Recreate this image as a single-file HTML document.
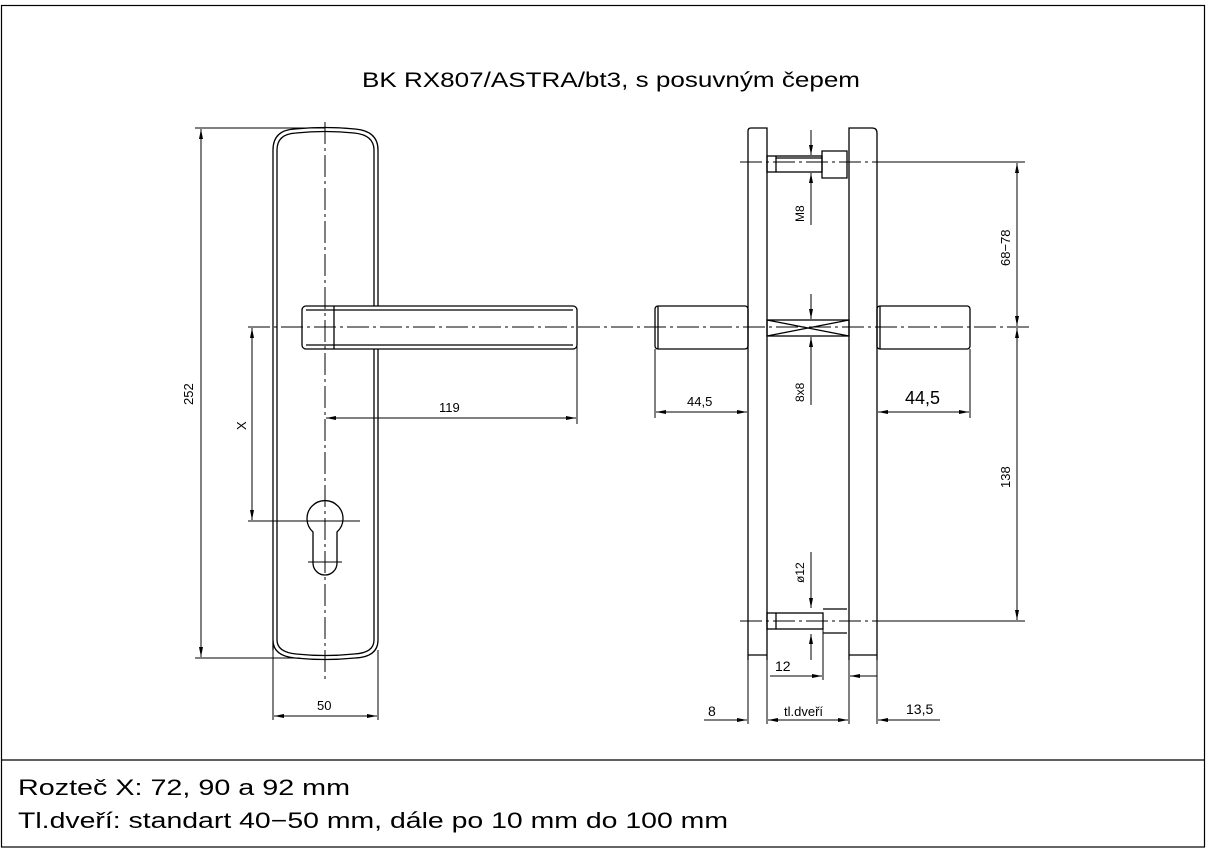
<!DOCTYPE html>
<html><head><meta charset="utf-8"><style>
html,body{margin:0;padding:0;background:#fff;}
svg{display:block;}
text{font-family:"Liberation Sans",sans-serif;fill:#000;}
</style></head><body>
<svg width="1209" height="854" viewBox="0 0 1209 854" xmlns="http://www.w3.org/2000/svg">
<defs>
<marker id="a" viewBox="0 0 10 4" refX="10" refY="2" markerWidth="10" markerHeight="4" orient="auto-start-reverse" markerUnits="userSpaceOnUse"><path d="M0,0 L10,2 L0,4z" fill="#000"/></marker>
</defs>
<g fill="none" stroke="#000" stroke-width="1.2">
<rect x="1.5" y="5.5" width="1203" height="841.5"/>
<line x1="1" y1="760" x2="1205" y2="760"/>
</g>
<text x="362" y="87" font-size="21" textLength="498" lengthAdjust="spacingAndGlyphs">BK RX807/ASTRA/bt3, s posuvným čepem</text>
<text x="18" y="795" font-size="22" textLength="332" lengthAdjust="spacingAndGlyphs">Rozteč X: 72, 90 a 92 mm</text>
<text x="18" y="828" font-size="22" textLength="710" lengthAdjust="spacingAndGlyphs">Tl.dveří: standart 40−50 mm, dále po 10 mm do 100 mm</text>

<!-- Left view -->
<g fill="none" stroke="#000" stroke-width="1.3">
<path d="M273,650 L273,150 Q273,130 295,129 Q325,126 355,129 Q378,131 378,150 L378,640 Q378,657 355,658 Q325,661 295,658 Q273,656 273,640Z"/>
<path d="M277,640 L277,150 Q277,134 296,133 Q325,130 354,133 Q374,135 374,150 L374,640 Q374,653 354,654 Q325,657 296,654 Q277,652 277,640Z"/>
<rect x="302" y="306" width="275" height="43" rx="4" fill="#fff"/>
<line x1="306" y1="310" x2="573" y2="310"/>
<line x1="306" y1="345" x2="573" y2="345"/>
<line x1="334" y1="306" x2="334" y2="349"/>
<path d="M313,532 A18,18 0 1 1 337,532 L337,563 A11,11 0 0 1 313,563 Z"/>
</g>
<g stroke="#000" stroke-width="1" fill="none" stroke-dasharray="22,4,3,4">
<line x1="325" y1="122" x2="325" y2="682"/>
<line x1="248" y1="327" x2="1030" y2="327"/>
<line x1="740" y1="162" x2="880" y2="162"/>
<line x1="740" y1="621" x2="880" y2="621"/>
</g>
<g stroke="#000" stroke-width="1" fill="none">
<line x1="248" y1="521" x2="360" y2="521"/>
<line x1="308" y1="562" x2="342" y2="562"/>
<line x1="195" y1="128" x2="325" y2="128"/>
<line x1="195" y1="658" x2="300" y2="658"/>
<line x1="201" y1="129" x2="201" y2="657" marker-start="url(#a)" marker-end="url(#a)"/>
<line x1="252" y1="328" x2="252" y2="520" marker-start="url(#a)" marker-end="url(#a)"/>
<line x1="577" y1="340" x2="577" y2="424"/>
<line x1="326" y1="418" x2="576" y2="418" marker-start="url(#a)" marker-end="url(#a)"/>
<line x1="273" y1="650" x2="273" y2="720"/>
<line x1="378" y1="650" x2="378" y2="720"/>
<line x1="274" y1="716" x2="377" y2="716" marker-start="url(#a)" marker-end="url(#a)"/>
</g>
<text font-size="13" transform="translate(193,405) rotate(-90)">252</text>
<text font-size="13" transform="translate(246,430) rotate(-90)">X</text>
<text x="439" y="412" font-size="13">119</text>
<text x="317" y="710" font-size="13">50</text>

<!-- Right view -->
<g fill="none" stroke="#000" stroke-width="1.3">
<path d="M748,660 L748,131 Q748,128 751,128 L767,128 L767,660"/>
<path d="M849,660 L849,128 L872,128 Q877,128 877,133 L877,660"/>
<line x1="767" y1="655" x2="748" y2="655"/>
<line x1="849" y1="655" x2="877" y2="655"/>
<rect x="767" y="156" width="55" height="16"/>
<line x1="776" y1="156" x2="776" y2="172"/>
<line x1="776" y1="158" x2="822" y2="158"/>
<path d="M822,151 L847,151 L847,178 L822,178Z"/>
<rect x="767" y="613" width="56" height="16"/>
<line x1="776" y1="613" x2="776" y2="629"/>
<line x1="823" y1="609" x2="847" y2="609"/>
<line x1="823" y1="633" x2="847" y2="633"/>
<rect x="767" y="320" width="82" height="16"/>
<path d="M767,320 L849,336 M767,336 L849,320"/>
<rect x="655" y="306" width="93" height="43" rx="3"/>
<line x1="658" y1="306" x2="658" y2="349"/>
<rect x="877" y="306" width="93" height="43" rx="3"/>
<line x1="880" y1="306" x2="880" y2="349"/>
</g>
<g stroke="#000" stroke-width="1" fill="none">
<line x1="811" y1="130" x2="811" y2="155" marker-end="url(#a)"/>
<line x1="811" y1="225" x2="811" y2="173" marker-end="url(#a)"/>
<line x1="811" y1="294" x2="811" y2="319" marker-end="url(#a)"/>
<line x1="811" y1="405" x2="811" y2="337" marker-end="url(#a)"/>
<line x1="811" y1="552" x2="811" y2="608" marker-end="url(#a)"/>
<line x1="811" y1="660" x2="811" y2="634" marker-end="url(#a)"/>
<line x1="877" y1="162" x2="1025" y2="162"/>
<line x1="877" y1="621" x2="1025" y2="621"/>
<line x1="1017" y1="163" x2="1017" y2="326" marker-start="url(#a)" marker-end="url(#a)"/>
<line x1="1017" y1="328" x2="1017" y2="620" marker-start="url(#a)" marker-end="url(#a)"/>
<line x1="655" y1="349" x2="655" y2="418"/>
<line x1="748" y1="349" x2="748" y2="418"/>
<line x1="656" y1="412" x2="747" y2="412" marker-start="url(#a)" marker-end="url(#a)"/>
<line x1="877" y1="349" x2="877" y2="418"/>
<line x1="970" y1="349" x2="970" y2="418"/>
<line x1="878" y1="412" x2="969" y2="412" marker-start="url(#a)" marker-end="url(#a)"/>
<line x1="823" y1="629" x2="823" y2="680"/>
<line x1="770" y1="676" x2="822" y2="676" marker-end="url(#a)"/>
<line x1="877" y1="676" x2="850" y2="676" marker-end="url(#a)"/>
<line x1="849" y1="660" x2="849" y2="724"/>
<line x1="748" y1="660" x2="748" y2="724"/>
<line x1="767" y1="660" x2="767" y2="724"/>
<line x1="877" y1="660" x2="877" y2="724"/>
<line x1="704" y1="720" x2="747" y2="720" marker-end="url(#a)"/>
<line x1="768" y1="720" x2="848" y2="720" marker-start="url(#a)" marker-end="url(#a)"/>
<line x1="940" y1="720" x2="878" y2="720" marker-end="url(#a)"/>
</g>
<text font-size="12" transform="translate(804,222) rotate(-90)">M8</text>
<text font-size="12" transform="translate(804,402) rotate(-90)">8x8</text>
<text font-size="12" transform="translate(804,583) rotate(-90)">ø12</text>
<text font-size="13" transform="translate(1010,266) rotate(-90)">68−78</text>
<text font-size="13" transform="translate(1010,488) rotate(-90)">138</text>
<text x="687" y="406" font-size="13">44,5</text>
<text x="905" y="404" font-size="18">44,5</text>
<text x="775" y="671" font-size="14">12</text>
<text x="708" y="716" font-size="14">8</text>
<text x="784" y="716" font-size="13">tl.dveří</text>
<text x="906" y="714" font-size="14">13,5</text>
</svg>
</body></html>
